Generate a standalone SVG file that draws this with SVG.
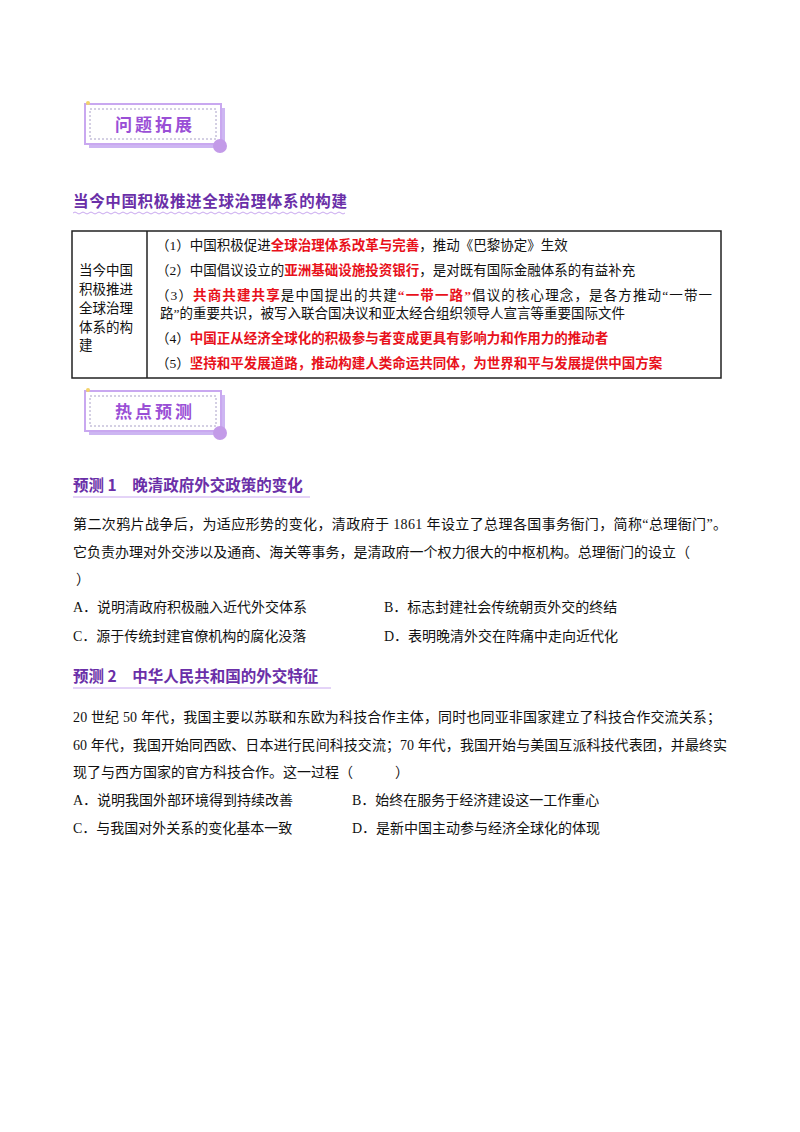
<svg xmlns="http://www.w3.org/2000/svg" width="800" height="1132" viewBox="0 0 800 1132">
<style>
text{font-family:"Liberation Serif","Noto Sans CJK SC",serif;fill:#111}
.b{font-size:14px}
.t{font-size:13.5px}
.r{fill:#e8111b;font-weight:bold}
.h{font-family:"Noto Sans CJK SC",sans-serif;font-weight:bold;fill:#6a2fa8;font-size:15.5px}
.bn{font-family:"Noto Sans CJK SC",sans-serif;font-weight:bold;fill:#9a4fd6;font-size:17px;letter-spacing:3px}
</style>
<defs>
<g id="banner">
<rect x="4" y="4" width="136" height="40" fill="#cdb6f2"/>
<rect x="0" y="0" width="136" height="40" fill="#fff" stroke="#c9a8f0" stroke-width="2"/>
<rect x="5" y="5" width="126" height="30" fill="none" stroke="#a9a0c8" stroke-dasharray="2,2"/>
<circle cx="135" cy="42" r="7" fill="#c39be8"/>
<circle cx="3" cy="-1" r="2" fill="#f3d36a"/>
</g>
</defs>
<rect width="800" height="1132" fill="#fff"/>
<g id="banner1"><use href="#banner" x="85" y="104"/><text class="bn" x="155" y="131" text-anchor="middle">问题拓展</text></g>
<g id="title1"><text class="h" x="73" y="207" textLength="274" lengthAdjust="spacing">当今中国积极推进全球治理体系的构建</text>
<path d="M73 213 q2 -2 4 0 t4 0 t4 0 t4 0 t4 0 t4 0 t4 0 t4 0 t4 0 t4 0 t4 0 t4 0 t4 0 t4 0 t4 0 t4 0 t4 0 t4 0 t4 0 t4 0 t4 0 t4 0 t4 0 t4 0 t4 0 t4 0 t4 0 t4 0 t4 0 t4 0 t4 0 t4 0 t4 0 t4 0 t4 0 t4 0 t4 0 t4 0 t4 0 t4 0 t4 0 t4 0 t4 0 t4 0 t4 0 t4 0 t4 0 t4 0 t4 0 t4 0 t4 0 t4 0 t4 0 t4 0 t4 0 t4 0 t4 0 t4 0 t4 0 t4 0 t4 0 t4 0 t4 0 t4 0 t4 0 t4 0 t4 0 t4 0" fill="none" stroke="#c9a8f0" stroke-width="1"/></g>
<g id="table">
<rect x="72" y="231" width="649" height="147" fill="none" stroke="#222" stroke-width="1.5"/>
<line x1="147" y1="231" x2="147" y2="378" stroke="#222" stroke-width="1.5"/>
<g class="t">
<text x="79" y="275">当今中国</text><text x="79" y="294">积极推进</text><text x="79" y="313">全球治理</text><text x="79" y="332">体系的构</text><text x="79" y="350">建</text>
<text x="156" y="250">（1）中国积极促进<tspan class="r">全球治理体系改革与完善</tspan>，推动《巴黎协定》生效</text>
<text x="156" y="275">（2）中国倡议设立的<tspan class="r">亚洲基础设施投资银行</tspan>，是对既有国际金融体系的有益补充</text>
<text x="156" y="300" textLength="556" lengthAdjust="spacing">（3）<tspan class="r">共商共建共享</tspan>是中国提出的共建<tspan class="r">“一带一路”</tspan>倡议的核心理念，是各方推动“一带一</text>
<text x="160" y="318">路”的重要共识，被写入联合国决议和亚太经合组织领导人宣言等重要国际文件</text>
<text x="156" y="343">（4）<tspan class="r">中国正从经济全球化的积极参与者变成更具有影响力和作用力的推动者</tspan></text>
<text x="156" y="368">（5）<tspan class="r">坚持和平发展道路，推动构建人类命运共同体，为世界和平与发展提供中国方案</tspan></text>
</g>
</g>
<g id="banner2"><use href="#banner" x="85" y="391"/><text class="bn" x="155" y="418" text-anchor="middle">热点预测</text></g>
<g id="q1">
<text class="h" x="73" y="491">预测 1　晚清政府外交政策的变化</text>
<line x1="73" y1="497" x2="310" y2="497" stroke="#c9a8f0"/>
<text class="b" x="73" y="529" textLength="654" lengthAdjust="spacing">第二次鸦片战争后，为适应形势的变化，清政府于 1861 年设立了总理各国事务衙门，简称“总理衙门”。</text>
<text class="b" x="73" y="557" textLength="617" lengthAdjust="spacing">它负责办理对外交涉以及通商、海关等事务，是清政府一个权力很大的中枢机构。总理衙门的设立（</text>
<text class="b" x="76" y="584">）</text>
<text class="b" x="73" y="612">A．说明清政府积极融入近代外交体系</text>
<text class="b" x="384" y="612">B．标志封建社会传统朝贡外交的终结</text>
<text class="b" x="73" y="641">C．源于传统封建官僚机构的腐化没落</text>
<text class="b" x="384" y="641">D．表明晚清外交在阵痛中走向近代化</text>
</g>
<g id="q2">
<text class="h" x="73" y="682">预测 2　中华人民共和国的外交特征</text>
<line x1="73" y1="688" x2="331" y2="688" stroke="#c9a8f0"/>
<text class="b" x="73" y="722" textLength="648" lengthAdjust="spacing">20 世纪 50 年代，我国主要以苏联和东欧为科技合作主体，同时也同亚非国家建立了科技合作交流关系；</text>
<text class="b" x="73" y="750" textLength="654" lengthAdjust="spacing">60 年代，我国开始同西欧、日本进行民间科技交流；70 年代，我国开始与美国互派科技代表团，并最终实</text>
<text class="b" x="73" y="777">现了与西方国家的官方科技合作。这一过程（　　　）</text>
<text class="b" x="73" y="805">A．说明我国外部环境得到持续改善</text>
<text class="b" x="352" y="805">B．始终在服务于经济建设这一工作重心</text>
<text class="b" x="73" y="833">C．与我国对外关系的变化基本一致</text>
<text class="b" x="352" y="833">D．是新中国主动参与经济全球化的体现</text>
</g>
</svg>
